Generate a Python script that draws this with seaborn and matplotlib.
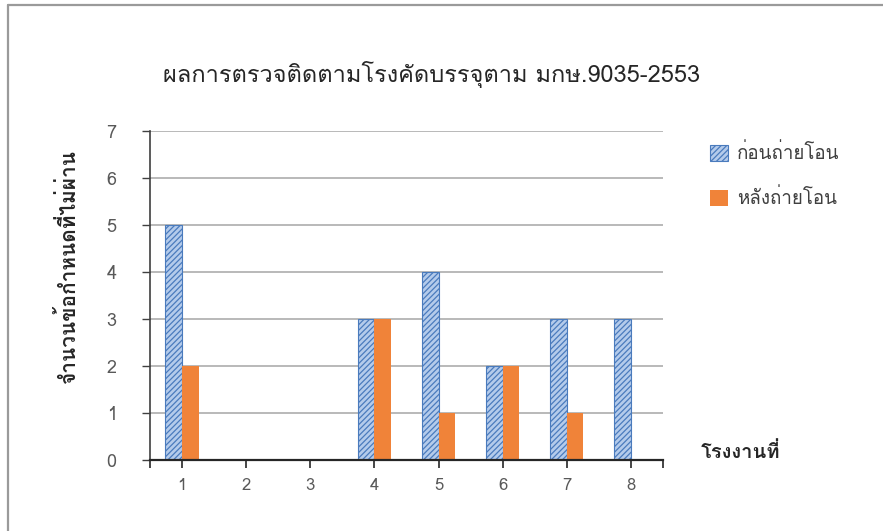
import matplotlib
matplotlib.use("Agg")
import matplotlib.pyplot as plt
from matplotlib.lines import Line2D
from matplotlib.patches import Patch
import pandas as pd
import seaborn as sns

# Data: number of failed requirements per factory, before and after transfer
plants = ["1", "2", "3", "4", "5", "6", "7", "8"]
before = [5, 0, 0, 3, 4, 2, 3, 3]
after = [2, 0, 0, 3, 1, 2, 1, 0]
series_names = ["ก่อนถ่ายโอน", "หลังถ่ายโอน"]

title = "ผลการตรวจติดตามโรงคัดบรรจุตาม มกษ.9035-2553"
ylabel = "จำนวนข้อกำหนดที่ไม่ผ่าน"
xlabel = "โรงงานที่"

sns.set_theme(style="white")
plt.rcParams["font.family"] = ["Loma", "DejaVu Sans"]
plt.rcParams["hatch.linewidth"] = 0.9

df = pd.DataFrame({
    "plant": plants * 2,
    "count": before + after,
    "phase": [series_names[0]] * len(plants) + [series_names[1]] * len(plants),
})

blue_fill = "#b4cbeb"
blue_edge = "#4a7bbd"
orange = "#f08339"

fig = plt.figure(figsize=(8.83, 5.31), dpi=100)
ax = fig.add_axes([150 / 883, 1 - 460 / 531, 513 / 883, 329 / 531])

sns.barplot(data=df, x="plant", y="count", hue="phase", order=plants,
            hue_order=series_names, palette=[blue_fill, orange],
            width=0.52, saturation=1, ax=ax, legend=False, zorder=3)

n = len(plants)
for i, p in enumerate(ax.patches[:2 * n]):
    if i < n:
        p.set_facecolor(blue_fill)
        p.set_edgecolor(blue_edge)
        p.set_hatch("//////")
        p.set_linewidth(0.8)
    else:
        p.set_facecolor(orange)
        p.set_edgecolor(orange)
        p.set_linewidth(0)

ax.set_xlim(-0.5, n - 0.5)
ax.set_ylim(0, 7)
ax.set_yticks(range(0, 8))
ax.yaxis.grid(True, color="#a6a6a6", linewidth=1.1)
ax.set_axisbelow(True)
ax.set_xlabel("")
ax.set_ylabel(ylabel, fontsize=15, fontweight="bold", color="#262626")
ax.yaxis.set_label_coords(-0.138, 0.59)

for s in ["top", "right"]:
    ax.spines[s].set_visible(False)
ax.spines["left"].set_color("#404040")
ax.spines["left"].set_linewidth(1.2)
ax.spines["bottom"].set_color("#262626")
ax.spines["bottom"].set_linewidth(1.6)
ax.spines["bottom"].set_zorder(5)

ax.tick_params(axis="y", which="major", direction="out", length=6, width=1,
               color="#404040", labelsize=13, labelcolor="#595959", pad=18, left=True)
ax.tick_params(axis="x", which="major", direction="out", length=6, width=1.2,
               color="#262626", labelsize=12, labelcolor="#595959", pad=7, bottom=True)
ax.set_xticks([-0.5, n - 0.5], minor=True)
ax.tick_params(axis="x", which="minor", direction="out", length=6, width=1.2,
               color="#262626", bottom=True)

fig.text(432 / 883, 1 - 75 / 531, title, fontsize=17, color="#262626",
         ha="center", va="center")

ax.text(1.073, 0.024, xlabel, transform=ax.transAxes, fontsize=14.5,
        fontweight="bold", color="#262626", ha="left", va="center")

handles = [
    Patch(facecolor=blue_fill, edgecolor=blue_edge, hatch="//////", linewidth=0.8),
    Patch(facecolor=orange, edgecolor=orange, linewidth=0),
]
fig.legend(handles, series_names, loc="upper left", bbox_to_anchor=(701 / 883, 1 - 134 / 531),
           frameon=False, fontsize=13.5, labelcolor="#404040", handlelength=0.95,
           handleheight=0.95, handletextpad=0.45, labelspacing=1.35, borderpad=0)

# Frame lines along the top and left edges
fig.add_artist(Line2D([8 / 883, 1], [1 - 5 / 531, 1 - 5 / 531], transform=fig.transFigure,
                      color="#9a9a9a", linewidth=1.6))
fig.add_artist(Line2D([8 / 883, 8 / 883], [0, 1 - 5 / 531], transform=fig.transFigure,
                      color="#9a9a9a", linewidth=1.6))

fig.savefig("out.png", dpi=100)
